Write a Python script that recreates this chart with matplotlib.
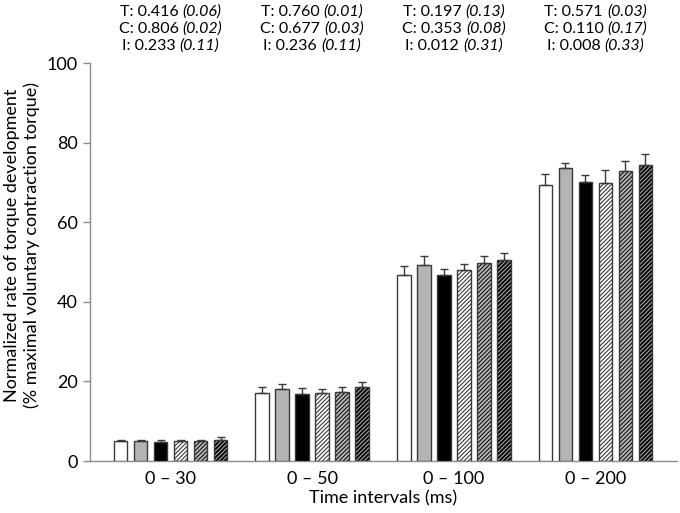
import matplotlib
matplotlib.use("Agg")
import matplotlib.pyplot as plt
import numpy as np

plt.rcParams['font.family'] = ['Lato', 'DejaVu Sans']

categories = ["0 \u2013 30", "0 \u2013 50", "0 \u2013 100", "0 \u2013 200"]
# six conditions per time interval
means = [
    [4.9, 4.9, 4.7, 5.0, 4.9, 5.4],
    [17.0, 18.1, 16.8, 17.0, 17.4, 18.5],
    [46.8, 49.3, 46.7, 47.9, 49.7, 50.4],
    [69.3, 73.5, 70.0, 69.8, 72.8, 74.4],
]
errors = [
    [0.5, 0.5, 0.6, 0.4, 0.4, 0.6],
    [1.5, 1.2, 1.5, 1.2, 1.2, 1.3],
    [2.1, 2.1, 1.5, 1.7, 1.9, 1.9],
    [2.7, 1.4, 1.8, 3.2, 2.6, 2.7],
]
stat_T = [("0.416", "(0.06)"), ("0.760", "(0.01)"), ("0.197", "(0.13)"), ("0.571", "(0.03)")]
stat_C = [("0.806", "(0.02)"), ("0.677", "(0.03)"), ("0.353", "(0.08)"), ("0.110", "(0.17)")]
stat_I = [("0.233", "(0.11)"), ("0.236", "(0.11)"), ("0.012", "(0.31)"), ("0.008", "(0.33)")]
yticks = [0, 20, 40, 60, 80, 100]

# styles per condition: facecolor, hatch, hatch colour
styles = [
    ("white", None, None),
    ("#b4b4b4", None, None),
    ("black", None, None),
    ("white", "////////", "#3a3a3a"),
    ("#b8b8b8", "////////", "#111111"),
    ("#000000", "////////", "#a8a8a8"),
]

fig = plt.figure(figsize=(6.8, 5.13), dpi=100)
ax = fig.add_axes([90/680, 1-461/513, (677-90)/680, (461-63)/513])

n = 6
pitch = 20/141.5
width = 13.5/141.5
x = np.arange(len(categories))
outline = "#3a3a3a"
plt.rcParams['hatch.linewidth'] = 0.8

for j in range(n):
    vals = [means[i][j] for i in range(len(categories))]
    errs = [errors[i][j] for i in range(len(categories))]
    pos = x + (j - (n-1)/2) * pitch
    fc, hatch, hc = styles[j]
    if hatch:
        ax.bar(pos, vals, width, color=fc, hatch=hatch, edgecolor=hc, linewidth=0, zorder=2)
        ax.bar(pos, vals, width, fill=False, edgecolor=outline, linewidth=1.0, zorder=3)
    else:
        ax.bar(pos, vals, width, color=fc, edgecolor=outline, linewidth=1.0, zorder=3)
    ax.errorbar(pos, vals, yerr=[np.zeros(len(vals)), errs], fmt='none',
                ecolor=outline, elinewidth=1.0, capsize=3, capthick=1.0, zorder=4)

ax.set_xlim(-(170.5-90)/141.5, 3 + (677-595.5)/141.5)
ax.set_ylim(0, 100)
ax.set_yticks(yticks)
ax.set_yticklabels([str(v) for v in yticks], fontsize=13)
ax.set_xticks(x)
ax.set_xticklabels(categories, fontsize=13)
ax.tick_params(axis='x', length=0, pad=7)
ax.tick_params(axis='y', length=5, width=1, color='#8c8c8c', pad=4)
for s in ['top', 'right']:
    ax.spines[s].set_visible(False)
for s in ['left', 'bottom']:
    ax.spines[s].set_color('#8c8c8c')
    ax.spines[s].set_linewidth(1.0)

fig.text(383/680, 1-498/513, "Time intervals (ms)", ha='center', va='center', fontsize=13)
fig.text(22/680, 1-245/513, "Normalized rate of torque development\n(% maximal voluntary contraction torque)",
         rotation=90, ha='center', va='center', fontsize=13, multialignment='center',
         linespacing=1.2)

# statistics annotations above each group
lines_y = [12, 29, 46]
groups = [("T: ", stat_T), ("C: ", stat_C), ("I: ", stat_I)]
fig.canvas.draw()
renderer = fig.canvas.get_renderer()
for i in range(len(categories)):
    xc_disp = ax.transData.transform((x[i], 0))[0]
    for (prefix, stats), ly in zip(groups, lines_y):
        norm, ital = stats[i]
        yf = 1 - ly/513
        t1 = fig.text(0, yf, prefix + norm + " ", ha='left', va='center', fontsize=11.5)
        t2 = fig.text(0, yf, ital, ha='left', va='center', fontsize=11.5, style='italic')
        w1 = t1.get_window_extent(renderer).width
        w2 = t2.get_window_extent(renderer).width
        left = xc_disp - (w1 + w2)/2
        t1.set_x(left/680)
        t2.set_x((left + w1)/680)

fig.savefig("out.png", dpi=100)
